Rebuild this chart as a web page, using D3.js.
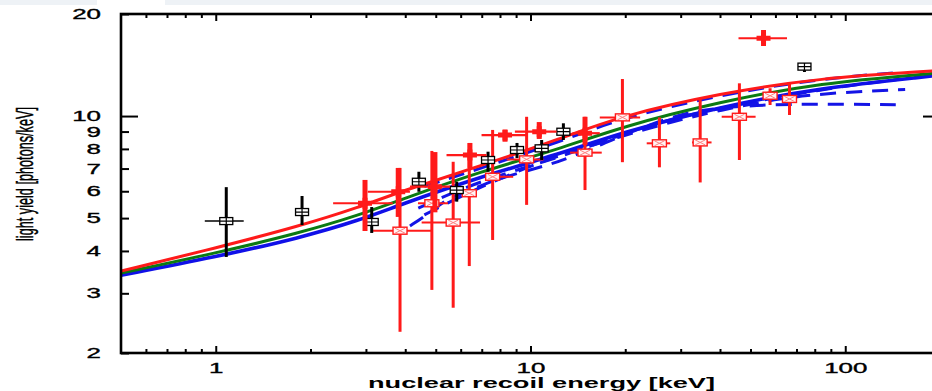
<!DOCTYPE html>
<html>
<head>
<meta charset="utf-8">
<script src="https://cdn.jsdelivr.net/npm/d3@7"></script>
<style>
  body { margin: 0; background: #fff; }
  svg { display: block; }
  text { font-family: "Liberation Sans", Arial, sans-serif; fill: #000; }
</style>
</head>
<body>
<svg id="chart" width="932" height="391"></svg>
<script>
// ---- measurements: [energy keV, yield, energy low, energy high, yield low, yield high]
const blackPoints = [
  [1.08, 4.90, 0.923, 1.227, 3.84, 6.17],
  [1.88, 5.21, 1.80, 1.96, 4.77, 5.81],
  [3.13, 4.87, 3.00, 3.27, 4.52, 5.39],
  [4.42, 6.40, 4.25, 4.60, 5.98, 6.85],
  [5.83, 6.05, 5.60, 6.05, 5.59, 6.40],
  [7.33, 7.42, 7.05, 7.60, 6.85, 7.85],
  [9.06, 7.94, 8.70, 9.40, 7.52, 8.33],
  [10.85, 8.03, 10.4, 11.3, 7.42, 8.50],
  [12.72, 8.99, 12.2, 13.2, 8.50, 9.52],
  [74.2, 13.99, 72.0, 76.5, 13.49, 14.34]
];
const redCrosses = [
  [2.98, 5.53, 2.36, 3.65, 4.58, 6.48],
  [3.80, 5.98, 3.04, 4.14, 5.04, 7.03],
  [4.97, 6.19, 4.14, 5.55, 5.20, 7.83],
  [6.42, 7.67, 5.41, 7.25, 7.03, 8.33],
  [8.30, 8.79, 6.99, 9.72, 8.40, 9.10],
  [10.66, 8.99, 8.92, 12.1, 8.56, 9.60],
  [14.9, 8.90, 13.6, 16.6, 8.22, 9.95],
  [55.0, 16.96, 45.8, 65.3, 16.09, 17.94]
];
const redSquares = [
  [3.85, 4.59, 3.16, 4.86, 2.31, 7.03],
  [4.86, 5.53, 4.39, 5.47, 3.07, 7.89],
  [5.68, 4.85, 4.51, 6.91, 2.72, 7.33],
  [6.39, 5.92, 6.10, 6.70, 3.61, 8.32],
  [7.58, 6.62, 7.25, 8.81, 4.31, 9.10],
  [9.72, 7.45, 8.40, 11.0, 5.47, 9.95],
  [14.9, 7.80, 13.36, 16.84, 6.05, 9.95],
  [19.59, 9.91, 16.6, 22.3, 7.31, 12.86],
  [25.68, 8.31, 23.4, 27.8, 7.06, 9.91],
  [34.6, 8.36, 32.6, 37.6, 6.37, 11.23],
  [46.1, 9.95, 40.5, 51.9, 7.42, 12.49],
  [57.7, 11.48, 55.5, 60.0, 10.78, 12.08],
  [66.5, 11.23, 64.0, 69.0, 10.07, 12.49]
];

// ---- model curves: [energy keV, yield]
const curveRed = [[0.5,3.49],[1,4.08],[1.85,4.74],[2.87,5.39],[3.84,5.98],[6.9,7.12],[12.4,8.56],[19.3,10.0],[40,11.67],[83,12.95],[189,13.58],[200,13.62]];
const curveGreen = [[0.5,3.44],[1,3.94],[1.85,4.52],[2.87,5.11],[3.84,5.65],[6.9,6.85],[12.4,8.0],[19.3,9.28],[40,11.02],[83,12.52],[189,13.36],[200,13.42]];
const curveBlue = [[0.5,3.39],[1,3.84],[1.85,4.37],[2.87,4.93],[3.84,5.47],[6.9,6.61],[12.4,7.73],[19.3,8.92],[40,10.66],[83,12.10],[189,13.12],[200,13.2]];
const dashedA = [[4.14,4.74],[4.69,5.11],[5.35,5.65],[5.97,5.89],[7.06,6.26],[8.0,6.56],[11.7,7.22],[13.2,7.52],[17.3,8.33],[22.3,9.22],[31.4,10.28],[40,10.56],[57.6,10.85],[103.7,10.83],[155,10.80]];
const dashedB = [[4.6,5.11],[6.42,5.98],[9.26,6.93],[12.4,7.67],[19.3,8.7],[27.8,9.6],[40,10.4],[62,11.3],[96,11.75],[155,11.98]];
const dashedC = [[4.4,5.35],[6.9,6.45],[12.4,7.55],[19.3,8.8],[27.8,9.8],[40,10.55],[83,12.0],[150,12.85]];
const dashedD = [[4.6,6.2],[6.9,7.0],[12.4,8.4],[19.3,9.85],[40,11.55],[83,12.9],[150,13.45]];

// ---- ticks
const xMajor = [1, 10, 100];
const xMinor = [0.6,0.7,0.8,0.9,2,3,4,5,6,7,8,9,20,30,40,50,60,70,80,90];
const yTicks = [2,3,4,5,6,7,8,9,10,20];

const svg = d3.select("#chart");
const pLeft = 121, pRight = 940, pTop = 14, pBottom = 353;
const x = d3.scaleLog().domain([0.5, 200]).range([pLeft, pRight]);
const y = d3.scaleLog().domain([2, 20]).range([pBottom, pTop]);

// faint strip along the top edge
svg.append("rect").attr("x", 0).attr("y", 0).attr("width", 97).attr("height", 5).attr("fill", "#eef2f6");
svg.append("rect").attr("x", 165).attr("y", 0).attr("width", 767).attr("height", 5).attr("fill", "#eef2f6");

svg.append("clipPath").attr("id", "plot").append("rect")
  .attr("x", pLeft).attr("y", pTop).attr("width", pRight - pLeft).attr("height", pBottom - pTop);

const plot = svg.append("g").attr("clip-path", "url(#plot)");

const line = d3.line().x(d => x(d[0])).y(d => y(d[1])).curve(d3.curveBasis);

// dashed model variants
[dashedA, dashedB, dashedC, dashedD].forEach(c => {
  plot.append("path").attr("d", line(c)).attr("fill", "none")
    .attr("stroke", "#1414e6").attr("stroke-width", 3).attr("stroke-dasharray", "16,10");
});
// solid model curves
plot.append("path").attr("d", line(curveBlue)).attr("fill", "none").attr("stroke", "#1010e8").attr("stroke-width", 3.6);
plot.append("path").attr("d", line(curveGreen)).attr("fill", "none").attr("stroke", "#0b7a12").attr("stroke-width", 3);
plot.append("path").attr("d", line(curveRed)).attr("fill", "none").attr("stroke", "#ff1a1a").attr("stroke-width", 3);

// error bars
function errorBars(data, color, vw, hw) {
  const g = plot.append("g");
  g.selectAll(".v").data(data).join("line")
    .attr("x1", d => x(d[0])).attr("x2", d => x(d[0]))
    .attr("y1", d => y(d[4])).attr("y2", d => y(d[5]))
    .attr("stroke", color).attr("stroke-width", vw);
  g.selectAll(".h").data(data).join("line")
    .attr("x1", d => x(d[2])).attr("x2", d => x(d[3]))
    .attr("y1", d => y(d[1])).attr("y2", d => y(d[1]))
    .attr("stroke", color).attr("stroke-width", hw);
  return g;
}

// red open squares with a cross inside
const gs = errorBars(redSquares, "#ff1a1a", 3, 2);
const sq = gs.selectAll(".m").data(redSquares).join("g")
  .attr("transform", d => `translate(${x(d[0])},${y(d[1])})`);
sq.append("rect").attr("x", -7).attr("y", -3.5).attr("width", 14).attr("height", 7)
  .attr("fill", "#fff4f4").attr("stroke", "#ff1a1a").attr("stroke-width", 1.4);
sq.append("path").attr("d", "M-5,-2.5L5,2.5M-5,2.5L5,-2.5").attr("stroke", "#ff8080").attr("stroke-width", 1);

// black open squares
const gb = errorBars(blackPoints, "#000", 3, 1.6);
const bq = gb.selectAll(".m").data(blackPoints).join("g")
  .attr("transform", d => `translate(${x(d[0])},${y(d[1])})`);
bq.append("rect").attr("x", -6.5).attr("y", -3.5).attr("width", 13).attr("height", 7)
  .attr("fill", "#fff").attr("stroke", "#000").attr("stroke-width", 1.3);
bq.append("path").attr("d", "M-6.5,0H6.5M0,-3.5V3.5").attr("stroke", "#000").attr("stroke-width", 1.2);

// red filled crosses
const gr = errorBars(redCrosses, "#ff1a1a", 5, 2.2);
gr.selectAll(".m").data(redCrosses).join("path")
  .attr("transform", d => `translate(${x(d[0])},${y(d[1])})`)
  .attr("d", "M-7,-2.5H-2.5V-5.5H2.5V-2.5H7V2.5H2.5V5.5H-2.5V2.5H-7Z")
  .attr("fill", "#ff1a1a");

// axes: inward ticks on all four sides
function styleAxis(g) {
  g.select(".domain").remove();
  g.selectAll(".tick line").attr("stroke", "#000").attr("stroke-width", 2);
}
const fmt = d3.format("d");

const xb = svg.append("g").attr("transform", `translate(0,${pBottom})`)
  .call(d3.axisBottom(x).tickValues(xMajor).tickSize(-7).tickPadding(10).tickFormat(fmt));
styleAxis(xb);
xb.selectAll("text").attr("font-size", 14).attr("transform", "scale(1.85,1)")
  .style("font-family", '"Liberation Sans", Arial, sans-serif').attr("fill", "#000")
  .attr("stroke", "#000").attr("stroke-width", 0.35);
svg.append("g").attr("transform", `translate(0,${pBottom})`)
  .call(d3.axisBottom(x).tickValues(xMinor).tickSize(-4).tickFormat(""))
  .call(styleAxis);
svg.append("g").attr("transform", `translate(0,${pTop})`)
  .call(d3.axisTop(x).tickValues(xMajor).tickSize(-7).tickFormat(""))
  .call(styleAxis);
svg.append("g").attr("transform", `translate(0,${pTop})`)
  .call(d3.axisTop(x).tickValues(xMinor).tickSize(-4).tickFormat(""))
  .call(styleAxis);

const yl = svg.append("g").attr("transform", `translate(${pLeft},0)`)
  .call(d3.axisLeft(y).tickValues(yTicks).tickSize(-8).tickPadding(20).tickFormat(fmt));
styleAxis(yl);
yl.selectAll(".tick line").filter(d => d === 10).attr("x2", 17);
yl.selectAll("text").attr("x", 0).attr("font-size", 14)
  .attr("transform", "translate(-20,0) scale(1.85,1)")
  .style("font-family", '"Liberation Sans", Arial, sans-serif').attr("fill", "#000")
  .attr("stroke", "#000").attr("stroke-width", 0.35);

const yr = svg.append("g").attr("transform", `translate(${pRight},0)`)
  .call(d3.axisRight(y).tickValues(yTicks).tickSize(-8).tickFormat(""));
styleAxis(yr);
yr.selectAll(".tick line").filter(d => d === 10).attr("x2", -17);

// frame
svg.append("rect").attr("x", pLeft).attr("y", pTop).attr("width", pRight - pLeft).attr("height", pBottom - pTop)
  .attr("fill", "none").attr("stroke", "#000").attr("stroke-width", 2.6);

// axis titles
svg.append("text").attr("x", 368).attr("y", 387.5)
  .attr("font-size", 14).attr("font-weight", "bold")
  .attr("textLength", 347).attr("lengthAdjust", "spacingAndGlyphs")
  .text("nuclear recoil energy [keV]");

svg.append("text")
  .attr("transform", "translate(25,174) scale(1.9,1) rotate(-90)")
  .attr("text-anchor", "middle").attr("dy", "0.35em")
  .attr("font-size", 12.5)
  .attr("stroke", "#000").attr("stroke-width", 0.25)
  .attr("textLength", 134).attr("lengthAdjust", "spacingAndGlyphs")
  .text("light yield [photons/keV]");
</script>
</body>
</html>
